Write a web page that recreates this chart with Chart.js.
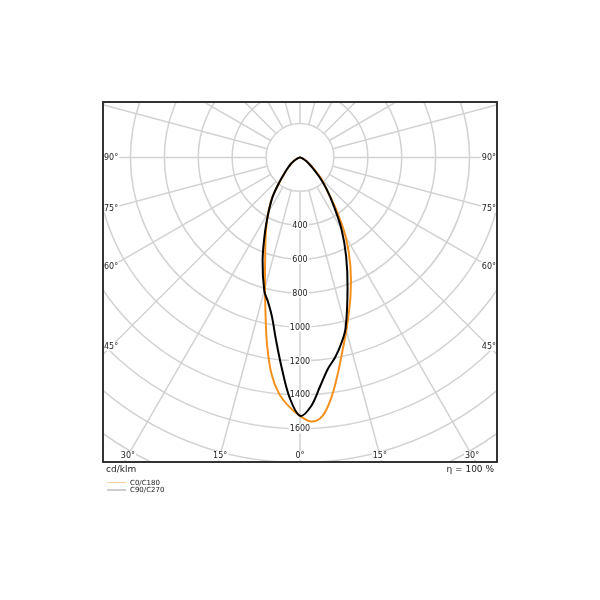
<!DOCTYPE html>
<html><head><meta charset="utf-8">
<script src="https://cdn.jsdelivr.net/npm/chart.js@4/dist/chart.umd.min.js"></script>
<style>html,body{margin:0;padding:0;background:#fff}canvas{display:block}</style>
</head><body>
<canvas id="c" width="600" height="600"></canvas>
<script>
// gamma angles (deg from nadir) and luminous intensities (cd/klm)
const gammaAngles = [0,2.5,5,7.5,10,12.5,15,20,25,30,35,40,45,50,55,60,65,70,75,80,85,90];
const c0   = [1524,1559,1530,1425,1290,1162,1056,871,703,538,367,241,178,110,70,42,26,15,8,4,2,0];
const c180 = [1524,1471,1401,1288,1120,940,798,600,475,373,282,180,122,88,62,40,25,15,8,4,2,0];
const c90  = [1524,1470,1356,1258,1196,1124,1040,820,644,490,345,244,161,100,62,40,25,15,8,4,2,0];
const c270 = [1524,1416,1243,1085,953,872,814,645,490,371,280,188,126,90,65,40,25,15,8,4,2,0];
const ringValues = [200,400,600,800,1000,1200,1400,1600,1800,2000,2200,2400];
const ringLabels = ['400','600','800','1000','1200','1400','1600'];
const spokeAngles = [0,15,30,45,60,75,90,105,120,135,150,165,180,195,210,225,240,255,270,285,300,315,330,345];
const angleLabels = ['0°','15°','30°','45°','60°','75°','90°'];
const seriesNames = ['C0/C180','C90/C270'];
const unitLabel = 'cd/klm';
const effLabel = 'η = 100 %';

function curve(left, right){
  const pts = [];
  for (let i = gammaAngles.length-1; i >= 0; i--) {
    const g = gammaAngles[i]*Math.PI/180;
    pts.push({x: -left[i]*Math.sin(g), y: -left[i]*Math.cos(g)});
  }
  for (let i = 1; i < gammaAngles.length; i++) {
    const g = gammaAngles[i]*Math.PI/180;
    pts.push({x: right[i]*Math.sin(g), y: -right[i]*Math.cos(g)});
  }
  return pts;
}

const FONT = '"DejaVu Sans", sans-serif';

const gridPlugin = {
  id: 'polarGrid',
  beforeDatasetsDraw(chart){
    const {ctx, chartArea:a, scales:{x, y}} = chart;
    const cx = x.getPixelForValue(0), cy = y.getPixelForValue(0);
    const k = x.getPixelForValue(1000) - cx;
    ctx.save();
    ctx.beginPath(); ctx.rect(a.left, a.top, a.width, a.height); ctx.clip();
    ctx.strokeStyle = '#d2d2d2'; ctx.lineWidth = 1.5;
    ringValues.forEach(v => {
      ctx.beginPath(); ctx.arc(cx, cy, v*k/1000, 0, Math.PI*2); ctx.stroke();
    });
    const r0 = ringValues[0]*k/1000, r1 = 4000*k/1000;
    spokeAngles.forEach(d => {
      const t = d*Math.PI/180;
      ctx.beginPath();
      ctx.moveTo(cx + r0*Math.sin(t), cy + r0*Math.cos(t));
      ctx.lineTo(cx + r1*Math.sin(t), cy + r1*Math.cos(t));
      ctx.stroke();
    });
    // ring labels
    ctx.font = '8px ' + FONT;
    ctx.textAlign = 'center'; ctx.textBaseline = 'middle';
    ringLabels.forEach(s => {
      const py = y.getPixelForValue(-Number(s));
      const w = ctx.measureText(s).width;
      ctx.fillStyle = '#fff';
      ctx.fillRect(cx - w/2 - 1, py - 4.5, w + 2, 9);
      ctx.fillStyle = '#222';
      ctx.fillText(s, cx, py + 0.5);
    });
    ctx.restore();
  },
  afterDatasetsDraw(chart){
    const {ctx, chartArea:a, scales:{x, y}} = chart;
    const cx = x.getPixelForValue(0), cy = y.getPixelForValue(0);
    ctx.save();
    ctx.font = '8px ' + FONT;
    ctx.textBaseline = 'middle';
    angleLabels.forEach(s => {
      const d = parseFloat(s);
      const t = d*Math.PI/180;
      const w = ctx.measureText(s).width;
      const pos = [];
      if (d < 45) {
        const yc = a.bottom - 6.5;
        const dx = (yc - cy)*Math.tan(t);
        pos.push([cx - dx, yc]);
        if (d > 0) pos.push([cx + dx, yc]);
      } else {
        const xl = a.left + 1 + w/2;
        const dy = (cx - xl)/Math.tan(t);
        pos.push([xl, cy + dy]);
        pos.push([a.right - 1 - w/2, cy + dy]);
      }
      pos.forEach(([px, py]) => {
        ctx.fillStyle = '#fff';
        ctx.fillRect(px - w/2 - 1, py - 4.5, w + 2, 9);
        ctx.fillStyle = '#222';
        ctx.textAlign = 'center';
        ctx.fillText(s, px, py + 0.5);
      });
    });
    // frame
    ctx.strokeStyle = '#333'; ctx.lineWidth = 2;
    ctx.strokeRect(a.left, a.top, a.width, a.height);
    // unit & efficiency
    ctx.fillStyle = '#222';
    ctx.font = '9px ' + FONT;
    ctx.textAlign = 'left';
    ctx.fillText(unitLabel, a.left + 3, a.bottom + 7.5);
    ctx.textAlign = 'right';
    ctx.fillText(effLabel, a.right - 3, a.bottom + 7.5);
    // legend
    const legendColors = ['#f9cf9f', '#9a9a9a'];
    ctx.font = '7px ' + FONT;
    ctx.textAlign = 'left';
    seriesNames.forEach((n, i) => {
      const ly = a.bottom + 20.5 + i*7.5;
      ctx.strokeStyle = legendColors[i]; ctx.lineWidth = 1;
      ctx.beginPath(); ctx.moveTo(a.left + 4, ly); ctx.lineTo(a.left + 23, ly); ctx.stroke();
      ctx.fillStyle = '#222';
      ctx.fillText(n, a.left + 27, ly + 0.5);
    });
    ctx.restore();
  }
};

new Chart(document.getElementById('c'), {
  type: 'scatter',
  data: {
    datasets: [
      {label: seriesNames[0], data: curve(c180, c0), showLine: true, borderColor: '#f5901d', borderWidth: 2, pointRadius: 0, tension: 0.35, fill: false, order: 2},
      {label: seriesNames[1], data: curve(c270, c90), showLine: true, borderColor: '#000', borderWidth: 2, pointRadius: 0, tension: 0.35, fill: false, order: 1}
    ]
  },
  options: {
    responsive: false, animation: false, devicePixelRatio: 1,
    layout: {padding: {left: 103, right: 103, top: 102, bottom: 138}},
    scales: {
      x: {type: 'linear', min: -1162, max: 1162, display: false},
      y: {type: 'linear', min: -1796, max: 327, display: false}
    },
    plugins: {legend: {display: false}, tooltip: {enabled: false}}
  },
  plugins: [gridPlugin]
});
</script>
</body></html>
